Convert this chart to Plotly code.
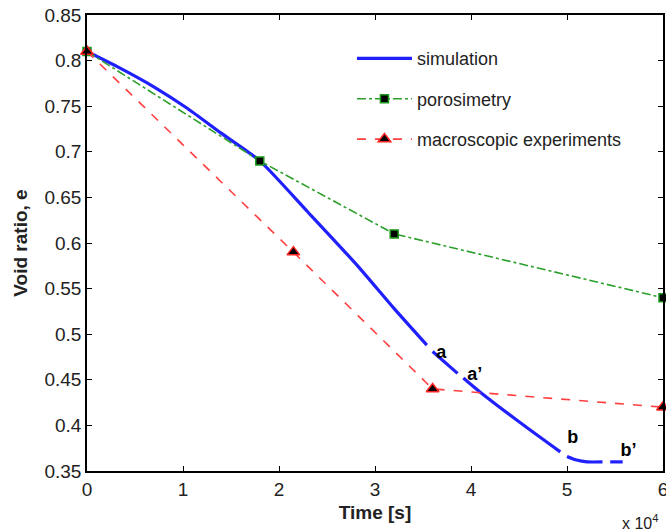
import plotly.graph_objects as go

# ---- data (time in units of 1e4 s) ----
sim_t = [0.0, 0.34, 0.70, 1.04, 1.39, 1.80, 2.30, 2.81, 3.20, 3.54, None,
         3.60, 3.86, None, 3.92, 4.09, 4.50, 4.93, None, 5.00, 5.10, 5.21, 5.37, None, 5.45, 5.58]
sim_e = [0.810, 0.792, 0.771, 0.748, 0.721, 0.690, 0.634, 0.576, 0.528, 0.488, None,
         0.481, 0.457, None, 0.452, 0.437, 0.404, 0.371, None, 0.366, 0.362, 0.360, 0.360, None, 0.360, 0.360]

por_t = [0.0, 1.8, 3.2, 6.0]
por_e = [0.81, 0.69, 0.61, 0.54]

mac_t = [0.0, 2.15, 3.6, 6.0]
mac_e = [0.81, 0.59, 0.44, 0.42]

label_text = ["a", "a\u2019", "b", "b\u2019"]
label_t = [3.69, 4.04, 5.06, 5.64]
label_e = [0.479, 0.455, 0.386, 0.371]

x_ticks = [0, 1, 2, 3, 4, 5, 6]
y_ticks = [0.35, 0.4, 0.45, 0.5, 0.55, 0.6, 0.65, 0.7, 0.75, 0.8, 0.85]
y_ticktext = ["0.35", "0.4", "0.45", "0.5", "0.55", "0.6", "0.65", "0.7", "0.75", "0.8", "0.85"]

FONT = "Liberation Sans, Arial, sans-serif"

fig = go.Figure()
fig.add_trace(go.Scatter(x=sim_t, y=sim_e, mode="lines", name="simulation",
                         line=dict(color="#2020ff", width=3.2, shape="spline", smoothing=0.6),
                         connectgaps=False, legendgroup="g1"))
fig.add_trace(go.Scatter(x=por_t, y=por_e, mode="lines+markers", name="porosimetry",
                         line=dict(color="#2ca02c", width=1.6, dash="dashdot"),
                         marker=dict(symbol="square", size=8, color="black",
                                     line=dict(color="#1a9a1a", width=1.5)),
                         cliponaxis=False, legendgroup="g2"))
fig.add_trace(go.Scatter(x=mac_t, y=mac_e, mode="lines+markers", name="macroscopic experiments",
                         line=dict(color="#ff4040", width=1.6, dash="dash"),
                         marker=dict(symbol="triangle-up", size=11, color="black",
                                     line=dict(color="#ff2020", width=1.5)),
                         cliponaxis=False, legendgroup="g3"))
fig.add_trace(go.Scatter(x=label_t, y=label_e, mode="text", text=label_text,
                         textfont=dict(family=FONT, size=18, color="black", weight="bold"),
                         showlegend=False, cliponaxis=False))

fig.update_layout(
    width=666, height=532,
    margin=dict(l=87, r=3, t=15, b=61),
    paper_bgcolor="white", plot_bgcolor="white",
    font=dict(family=FONT, size=19, color="#222"),
    showlegend=True,
    legend=dict(x=0.46, y=0.945, xanchor="left", yanchor="top",
                bgcolor="rgba(0,0,0,0)", font=dict(size=18, color="#222"),
                itemwidth=55, tracegroupgap=14, traceorder="grouped"),
    xaxis=dict(range=[0, 6], tickvals=x_ticks, ticks="inside", ticklen=5,
               showline=True, linecolor="black", linewidth=1.5, mirror="ticks",
               showgrid=False, zeroline=False, tickcolor="black", automargin=False,
               ticklabeloverflow="allow",
               title=dict(text="<b>Time [s]</b>", standoff=7, font=dict(size=19))),
    yaxis=dict(range=[0.35, 0.85], tickvals=y_ticks, ticktext=y_ticktext,
               ticks="inside", ticklen=5,
               showline=True, linecolor="black", linewidth=1.5, mirror="ticks",
               showgrid=False, zeroline=False, tickcolor="black", automargin=False,
               ticklabeloverflow="allow",
               title=dict(text="<b>Void ratio, e</b>", standoff=12, font=dict(size=19))),
    annotations=[dict(text="x 10<sup>4</sup>", xref="paper", yref="paper",
                      x=0.925, y=-0.085, xanchor="left", yanchor="top",
                      showarrow=False, font=dict(size=16, color="#222"))],
)

# remove the page's default body margin so the figure fills the window exactly
fig.write_html("out.html",
               config={"displayModeBar": False},
               post_script="document.body.style.margin='0';"
                           "document.documentElement.style.overflow='hidden';")
